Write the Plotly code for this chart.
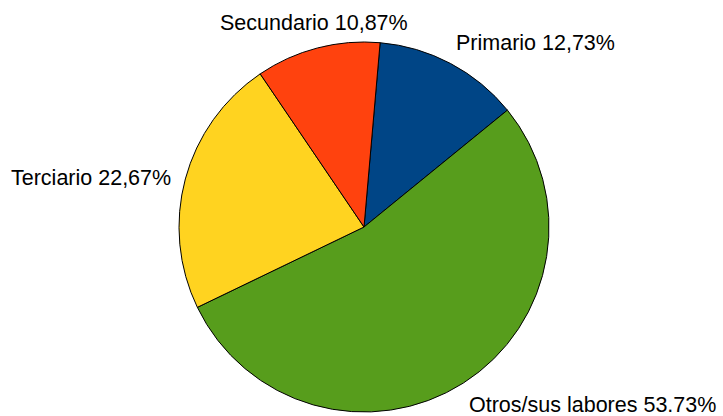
import plotly.graph_objects as go

# data
labels = ["Primario", "Otros/sus labores", "Terciario", "Secundario"]
values = [12.73, 53.73, 22.67, 10.87]
pct_text = ["12,73%", "53.73%", "22,67%", "10,87%"]
colors = ["#004586", "#579d1c", "#ffd320", "#ff420e"]

W, H = 723, 416
cx, cy, r = 364, 227, 185

fig = go.Figure()
fig.add_trace(go.Pie(
    labels=labels, values=values,
    sort=False, direction="clockwise", rotation=5,
    marker=dict(colors=colors, line=dict(color="#000000", width=1)),
    textinfo="none", hoverinfo="label+percent",
    showlegend=False,
    domain=dict(x=[(cx - r) / W, (cx + r) / W],
                y=[(H - cy - r) / H, (H - cy + r) / H]),
))

# outside labels (pixel positions of left edge / vertical centre)
label_pos = [(454, 43), (467, 405), (9, 178), (218, 23)]
for lab, pt, (px, py) in zip(labels, pct_text, label_pos):
    fig.add_annotation(
        text=f"{lab} {pt}", x=px / W, y=1 - py / H,
        xref="paper", yref="paper", xanchor="left", yanchor="middle",
        showarrow=False,
        font=dict(family="Liberation Sans, Arial", size=21.5, color="#000000"),
    )

fig.update_layout(
    width=W, height=H,
    margin=dict(l=0, r=0, t=0, b=0),
    paper_bgcolor="white", plot_bgcolor="white",
)

fig.write_html("out.html", config={"displayModeBar": False},
               post_script="document.body.style.margin='0';")
